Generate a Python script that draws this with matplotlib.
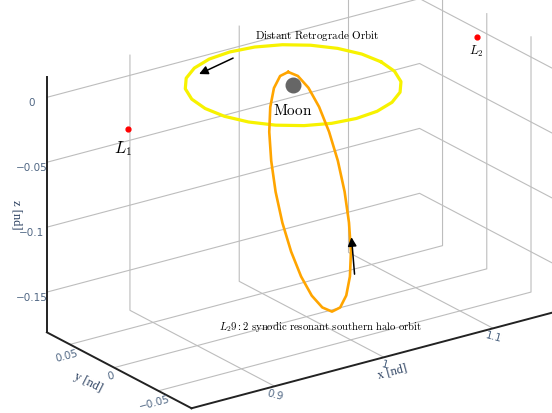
#Imports:
import matplotlib.pyplot as plt
from mpl_toolkits.mplot3d import proj3d

plt.rcParams['mathtext.fontset'] = 'cm'
plt.rcParams['grid.color'] = '#bdbdbd'
plt.rcParams['grid.linewidth'] = 0.8

#Points of interest (x, y, z in nd units):
moon = (0.9878, 0.0, 0.0)
l1 = (0.8369, 0.0, 0.0)
l2 = (1.1557, 0.0, 0.0)

#Distant retrograde orbit:
dro_x = [1.0683, 1.0656, 1.0575, 1.0447, 1.0281, 1.0086, 0.9878, 0.9670, 0.9476,
         0.9309, 0.9181, 0.9100, 0.9073, 0.9100, 0.9181, 0.9309, 0.9476, 0.9670,
         0.9878, 1.0086, 1.0281, 1.0447, 1.0575, 1.0656, 1.0683]
dro_y = [0.0, 0.0185, 0.0358, 0.0506, 0.0620, 0.0692, 0.0716, 0.0692, 0.0620,
         0.0506, 0.0358, 0.0185, 0.0, -0.0185, -0.0358, -0.0506, -0.0620, -0.0692,
         -0.0716, -0.0692, -0.0620, -0.0506, -0.0358, -0.0185, 0.0]
dro_z = [0.0, 0.0, 0.0, 0.0, 0.0, 0.0, 0.0, 0.0, 0.0, 0.0, 0.0, 0.0, 0.0,
         0.0, 0.0, 0.0, 0.0, 0.0, 0.0, 0.0, 0.0, 0.0, 0.0, 0.0, 0.0]

#L2 9:2 southern halo orbit:
halo_x = [0.9833, 0.9839, 0.9857, 0.9885, 0.9921, 0.9964, 1.0009, 1.0054, 1.0097,
          1.0133, 1.0161, 1.0179, 1.0185, 1.0179, 1.0161, 1.0133, 1.0097, 1.0054,
          1.0009, 0.9964, 0.9921, 0.9885, 0.9857, 0.9839, 0.9833]
halo_y = [0.0, -0.0102, -0.0199, -0.0285, -0.0353, -0.0399, -0.0420, -0.0414, -0.0383,
          -0.0327, -0.0251, -0.0160, -0.0060, 0.0042, 0.0139, 0.0225, 0.0293, 0.0339,
          0.0360, 0.0354, 0.0323, 0.0267, 0.0191, 0.0099, 0.0]
halo_z = [0.0112, 0.0116, 0.0056, -0.0067, -0.0242, -0.0458, -0.0699, -0.0950, -0.1193,
          -0.1413, -0.1593, -0.1722, -0.1791, -0.1794, -0.1734, -0.1611, -0.1436, -0.1220,
          -0.0979, -0.0728, -0.0485, -0.0265, -0.0086, 0.0044, 0.0112]

#Arrow heads showing direction of motion:
dro_arrow = (0.9435, 0.0516, 0.0)
halo_arrow = (1.0123, -0.0357, -0.1098)

#Axis ranges and ticks:
x_lim = (0.824, 1.165)
y_lim = (-0.0875, 0.076)
z_lim = (-0.181, 0.016)
x_ticks = [0.9, 1.0, 1.1]
x_labels = ['0.9', '1', '1.1']
y_ticks = [-0.05, 0.0, 0.05]
y_labels = ['\u22120.05', '0', '0.05']
z_ticks = [-0.15, -0.1, -0.05, 0.0]
z_labels = ['\u22120.15', '\u22120.1', '\u22120.05', '0']

#Creating the figure:
fig = plt.figure(figsize=(5.52, 4.13), dpi=100)
ax = fig.add_axes([0.0434, 0.0191, 1, 1], projection='3d')
ax.set_proj_type('ortho')
ax.view_init(elev=21.9, azim=-125.4)
ax.set_box_aspect((2.078, 1.135, 1.253), zoom=1.3853)

ax.plot(dro_x, dro_y, dro_z, color='#f7f200', lw=2.3)
ax.plot(halo_x, halo_y, halo_z, color='#ffa500', lw=1.9)
ax.scatter([moon[0]], [moon[1]], [moon[2]], s=110, color='#666666', depthshade=False)
ax.scatter([l1[0], l2[0]], [l1[1], l2[1]], [l1[2], l2[2]], s=12, color='red', depthshade=False)

ax.set_xlim(x_lim)
ax.set_ylim(y_lim)
ax.set_zlim(z_lim)
ax.set_xticks(x_ticks, x_labels)
ax.set_yticks(y_ticks, y_labels)
ax.set_zticks(z_ticks, z_labels)

tick_color = '#506784'
for axis in (ax.xaxis, ax.yaxis, ax.zaxis):
    axis.set_pane_color((1, 1, 1, 0))
    axis.pane.set_edgecolor((1, 1, 1, 0))
    axis._axinfo['tick']['inward_factor'] = 0
    axis._axinfo['tick']['outward_factor'] = 0
    axis.line.set_color('#222222')
    axis.line.set_linewidth(1.4)
ax.tick_params(labelsize=7.5, labelcolor=tick_color)
ax.tick_params(axis='x', labelrotation=-15, pad=-7)
ax.tick_params(axis='y', labelrotation=15, pad=-6.5)
ax.tick_params(axis='z', pad=-3.5)

#Axis titles (placed like the original, beside the tick labels):
label_font = dict(family='Liberation Serif', size=9, color='#2a3f5f')
fig.text(0.710, 0.099, 'x [nd]', rotation=15, ha='center', va='center', **label_font)
fig.text(0.159, 0.075, 'y [nd]', rotation=-27, ha='center', va='center', **label_font)
fig.text(0.03, 0.48, 'z [nd]', rotation=-90, ha='center', va='center', **label_font)

#Annotations, placed from projected points:
def to2d(p):
    x2, y2, _ = proj3d.proj_transform(p[0], p[1], p[2], ax.get_proj())
    return (x2, y2)

arrow = dict(arrowstyle='-|>', color='black', lw=1.1, mutation_scale=13, shrinkA=0, shrinkB=0)
ax.annotate('', xy=to2d(dro_arrow), xytext=(24.5, 11.5), textcoords='offset points', arrowprops=arrow)
ax.annotate('', xy=to2d(halo_arrow), xytext=(2.2, -26.6), textcoords='offset points', arrowprops=arrow)

ax.annotate(r'$\mathrm{Moon}$', xy=to2d(moon), xytext=(0, -18), textcoords='offset points',
            ha='center', va='center', fontsize=11)
ax.annotate(r'$L_1$', xy=to2d(l1), xytext=(-3.6, -14.4), textcoords='offset points',
            ha='center', va='center', fontsize=12)
ax.annotate(r'$L_2$', xy=to2d(l2), xytext=(0, -10.8), textcoords='offset points',
            ha='center', va='center', fontsize=9)
ax.annotate(r'$\mathrm{Distant\ Retrograde\ Orbit}$', xy=to2d(moon), xytext=(17.3, 36),
            textcoords='offset points', ha='center', va='center', fontsize=8)
ax.annotate(r'$L_2 9{:}2\ \mathrm{synodic\ resonant\ southern\ halo\ orbit}$',
            xy=to2d((halo_x[12], halo_y[12], halo_z[12])), xytext=(-8, -10.8),
            textcoords='offset points', ha='center', va='center', fontsize=7.7)

fig.savefig('out.png', dpi=100)
